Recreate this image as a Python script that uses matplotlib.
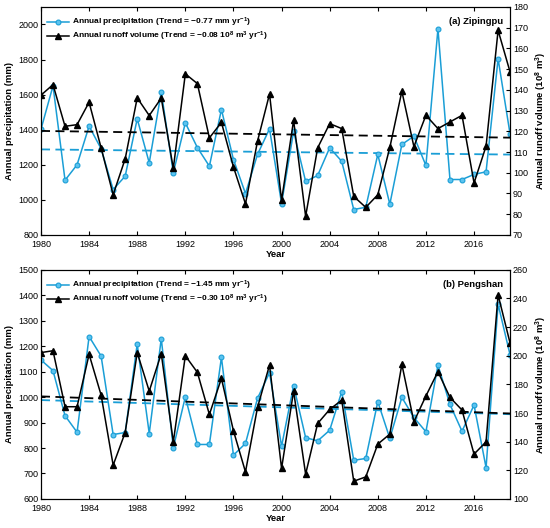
import matplotlib
matplotlib.use("Agg")
import matplotlib.pyplot as plt
import numpy as np

plt.rcParams['font.family'] = ['Liberation Sans', 'DejaVu Sans']
plt.rcParams['mathtext.fontset'] = 'custom'
plt.rcParams['mathtext.rm'] = 'Liberation Sans:bold'
plt.rcParams['mathtext.default'] = 'rm'

years = np.arange(1980, 2020)

# (a) Zipingpu
zpp_precip = [1402, 1650, 1112, 1200, 1420, 1291, 1059, 1135, 1462, 1211,
              1616, 1154, 1439, 1298, 1192, 1515, 1230, 1036, 1259, 1405,
              979, 1390, 1105, 1139, 1297, 1220, 945, 958, 1259, 975,
              1316, 1363, 1196, 1975, 1116, 1116, 1145, 1160, 1804, 1373]
zpp_runoff = [137.4, 142.5, 122.4, 123.2, 134.0, 112.0, 89.4, 106.7, 136.1, 127.6,
              136.0, 102.1, 147.7, 143.0, 116.8, 124.3, 102.8, 85.0, 115.2, 138.0,
              86.7, 125.3, 79.0, 112.0, 123.7, 121.3, 88.6, 83.3, 89.4, 112.2,
              139.3, 112.6, 127.7, 121.3, 124.5, 127.7, 95.1, 112.8, 168.7, 148.5]

# (b) Pengshan
psh_precip = [1146, 1104, 927, 862, 1238, 1161, 853, 861, 1208, 857,
              1230, 801, 1001, 814, 814, 1156, 772, 818, 995, 1096,
              807, 1045, 841, 828, 870, 1021, 752, 759, 982, 838,
              999, 920, 864, 1126, 971, 866, 969, 723, 1365, 1165]
psh_runoff = [202.2, 203.5, 164.4, 164.4, 201.0, 172.5, 123.6, 146.4, 202.2, 175.3,
              201.5, 139.7, 200.0, 188.4, 159.0, 184.2, 147.6, 118.9, 163.9, 193.5,
              121.3, 175.3, 117.3, 152.7, 162.5, 169.0, 112.4, 115.4, 138.3, 145.3,
              194.0, 153.9, 171.9, 188.9, 170.9, 162.1, 131.3, 139.9, 242.5, 208.7]

panels = [
    dict(precip=zpp_precip, runoff=zpp_runoff, name="(a) Zipingpu",
         p_trend="\u22120.77", r_trend="\u22120.08",
         ylim1=(800, 2100), yticks1=np.arange(800, 2001, 200),
         ylim2=(70, 180), yticks2=np.arange(70, 181, 10),
         pos=[0.0745, 0.555, 0.853, 0.432]),
    dict(precip=psh_precip, runoff=psh_runoff, name="(b) Pengshan",
         p_trend="\u22121.45", r_trend="\u22120.30",
         ylim1=(600, 1500), yticks1=np.arange(600, 1501, 100),
         ylim2=(100, 260), yticks2=np.arange(100, 261, 20),
         pos=[0.0745, 0.055, 0.853, 0.434]),
]

BLUE = "#1a9ed6"
TICK_FS = 6.5
LABEL_FS = 6.8
LEG_FS = 6

fig = plt.figure(figsize=(5.5, 5.28), dpi=100)

for p in panels:
    ax1 = fig.add_axes(p["pos"])
    ax2 = ax1.twinx()

    # trend lines from a linear fit
    c1 = np.polyfit(years, p["precip"], 1)
    c2 = np.polyfit(years, p["runoff"], 1)
    ax1.plot(years, np.polyval(c1, years), "--", color=BLUE, lw=1.3, dashes=(5, 3))
    ax2.plot(years, np.polyval(c2, years), "--", color="black", lw=1.3, dashes=(5, 3))

    l1, = ax1.plot(years, p["precip"], "-o", color=BLUE, lw=1.1, ms=3.5,
                   mfc="#5cc3ef", mec=BLUE, mew=0.8)
    l2, = ax2.plot(years, p["runoff"], "-^", color="black", lw=1.1, ms=4)

    ax1.set_xlim(1980, 2019)
    ax1.set_xticks(np.arange(1980, 2017, 4))
    ax1.set_ylim(*p["ylim1"])
    ax1.set_yticks(p["yticks1"])
    ax2.set_ylim(*p["ylim2"])
    ax2.set_yticks(p["yticks2"])

    ax1.tick_params(direction="in", labelsize=TICK_FS, length=3, top=True, pad=2)
    ax1.tick_params(axis="x", pad=3.5)
    ax2.tick_params(direction="in", labelsize=TICK_FS, length=3, pad=2)

    ax1.set_xlabel("Year", fontsize=LABEL_FS, fontweight="bold", labelpad=1)
    ax1.set_ylabel("Annual precipitation (mm)", fontsize=LABEL_FS, fontweight="bold", labelpad=3)
    ax2.set_ylabel("Annual runoff volume (10$^8$ m$^3$)", fontsize=LABEL_FS,
                   fontweight="bold", labelpad=4)

    ax2.text(0.985, 0.955, p["name"], transform=ax2.transAxes, ha="right", va="top",
             fontsize=LABEL_FS, fontweight="bold")

    ax2.legend([l1, l2],
               ["Annual precipitation (Trend = %s mm yr$^{-1}$)" % p["p_trend"],
                "Annual runoff volume (Trend = %s 10$^8$ m$^3$ yr$^{-1}$)" % p["r_trend"]],
               loc="upper left", frameon=False, prop=dict(size=LEG_FS, weight="bold"),
               handlelength=2.7, borderaxespad=0.3, labelspacing=0.05,
               handletextpad=0.3, bbox_to_anchor=(0.0, 0.985))

fig.savefig("out.png", dpi=100)
